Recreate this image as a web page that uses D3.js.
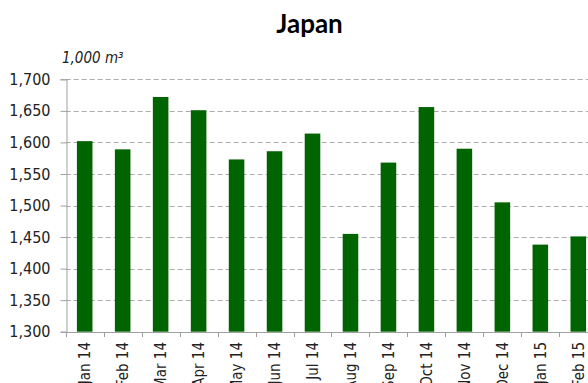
<!DOCTYPE html>
<html>
<head>
<meta charset="utf-8">
<script src="https://cdn.jsdelivr.net/npm/d3@7"></script>
<style>
  html, body { margin: 0; padding: 0; background: #fff; overflow: hidden; }
  svg { display: block; }
  .lbl { font-family: "DejaVu Sans Condensed", "DejaVu Sans", sans-serif; fill: #222; }
</style>
</head>
<body>
<svg id="chart" width="588" height="383"></svg>
<script>
// Monthly volumes, thousand cubic metres
const months = ["Jan 14", "Feb 14", "Mar 14", "Apr 14", "May 14", "Jun 14", "Jul 14",
                "Aug 14", "Sep 14", "Oct 14", "Nov 14", "Dec 14", "Jan 15", "Feb 15"];
const volumes = [1602, 1589, 1672, 1651, 1573, 1586, 1614,
                 1455, 1568, 1656, 1590, 1505, 1438, 1451];
const yTicks = [1300, 1350, 1400, 1450, 1500, 1550, 1600, 1650, 1700];
const chartTitle = "Japan";
const unitLabel = "1,000 m³";

const svg = d3.select("#chart");
const plotLeft = 65.7, plotTop = 79.3, plotBottom = 331.7;
const step = 37.97;
const plotRight = plotLeft + step * months.length;

const x = d3.scaleBand()
  .domain(months)
  .range([plotLeft, plotRight])
  .paddingInner(0.59)
  .paddingOuter(0.295);

const y = d3.scaleLinear().domain([1300, 1700]).range([plotBottom, plotTop]);

// dashed horizontal gridlines
svg.append("g")
  .selectAll("line")
  .data(yTicks.slice(1))
  .join("line")
  .attr("x1", plotLeft).attr("x2", 588)
  .attr("y1", d => Math.round(y(d)) + 0.5).attr("y2", d => Math.round(y(d)) + 0.5)
  .attr("stroke", "#ababab").attr("stroke-width", 1)
  .attr("stroke-dasharray", "5,3");

// bars
svg.append("g")
  .selectAll("rect")
  .data(volumes)
  .join("rect")
  .attr("x", (d, i) => x(months[i]))
  .attr("width", x.bandwidth())
  .attr("y", d => y(d))
  .attr("height", d => y(1300) - y(d))
  .attr("fill", "#006400");

// y axis
const yAxis = svg.append("g")
  .attr("transform", `translate(${Math.round(plotLeft) + 0.5},0)`)
  .call(d3.axisLeft(y).tickValues(yTicks).tickSize(6).tickPadding(10)
    .tickFormat(d3.format(",")));
yAxis.select(".domain").attr("stroke", "#a0a0a0");
yAxis.selectAll(".tick line").attr("stroke", "#a0a0a0");
yAxis.selectAll(".tick text")
  .attr("class", "lbl")
  .style("font-size", "16px")
  .attr("fill", "#222");

// x axis baseline and boundary ticks
const xg = svg.append("g");
xg.append("line")
  .attr("x1", Math.round(plotLeft)).attr("x2", 588)
  .attr("y1", Math.round(plotBottom) + 0.5).attr("y2", Math.round(plotBottom) + 0.5)
  .attr("stroke", "#a0a0a0");
xg.selectAll("line.bt")
  .data(months)
  .join("line")
  .attr("class", "bt")
  .attr("x1", d => Math.round(x(d) - (x.step() - x.bandwidth()) / 2) + 0.5)
  .attr("x2", d => Math.round(x(d) - (x.step() - x.bandwidth()) / 2) + 0.5)
  .attr("y1", Math.round(plotBottom)).attr("y2", Math.round(plotBottom) + 5)
  .attr("stroke", "#a0a0a0");

// rotated month labels
xg.selectAll("text")
  .data(months)
  .join("text")
  .attr("class", "lbl")
  .attr("transform", d => `translate(${x(d) + x.bandwidth() / 2},342) rotate(-90)`)
  .attr("text-anchor", "end")
  .attr("dy", "0.36em")
  .style("font-size", "15px")
  .text(d => d);

// title
svg.append("text")
  .attr("x", 309.5).attr("y", 33)
  .attr("text-anchor", "middle")
  .style("font-family", "Lato, 'Open Sans', sans-serif")
  .style("font-weight", "700")
  .style("font-size", "26px")
  .attr("fill", "#000")
  .text(chartTitle);

// unit label
svg.append("text")
  .attr("class", "lbl")
  .attr("x", 62).attr("y", 63)
  .style("font-size", "15px")
  .style("font-style", "italic")
  .text(unitLabel);
</script>
</body>
</html>
